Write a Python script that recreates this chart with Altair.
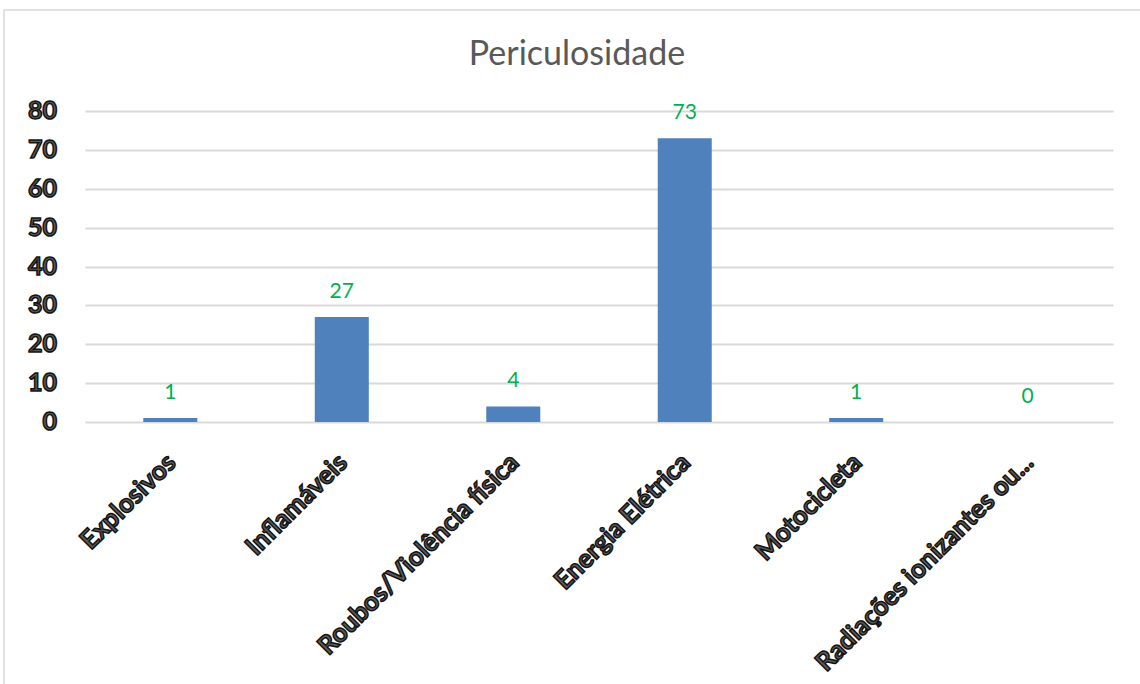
import altair as alt
import pandas as pd

# Hazard categories and their counts
categories = [
    "Explosivos",
    "Inflamáveis",
    "Roubos/Violência física",
    "Energia Elétrica",
    "Motocicleta",
    "Radiações ionizantes ou...",
]
counts = [1, 27, 4, 73, 1, 0]
y_ticks = [0, 10, 20, 30, 40, 50, 60, 70, 80]
chart_title = "Periculosidade"

W, H = 1028, 311
PAD = {"left": 85, "top": 111, "right": 27, "bottom": 262}

bars_df = pd.DataFrame({"categoria": categories, "total": counts})
ticks_df = pd.DataFrame({"tick": y_ticks, "rotulo": [str(t) for t in y_ticks]})
title_df = pd.DataFrame({"t": [chart_title]})

x_enc = alt.X(
    "categoria:N",
    sort=categories,
    scale=alt.Scale(paddingInner=0.685, paddingOuter=0.34),
    axis=None,
)
y_scale = alt.Scale(domain=[0, 80], nice=False)
# Gridlines only; the tick labels are drawn as outlined text below
y_axis = alt.Axis(
    values=y_ticks, labels=False, ticks=False, domain=False, title=None,
    grid=True, gridColor="#d9d9d9", gridWidth=2,
)

base = alt.Chart(bars_df)

# Outer chart frame
frame = base.mark_rect(fill=None, stroke="#d9d9d9", strokeWidth=1.5).encode(
    x=alt.value(-81), x2=alt.value(1060), y=alt.value(-101), y2=alt.value(580)
).transform_filter(alt.datum.categoria == categories[0])

bars = base.mark_bar(color="#4f81bd").encode(
    x=x_enc,
    y=alt.Y("total:Q", scale=y_scale, axis=y_axis),
)

values = base.mark_text(
    color="#00b050", font="Lato", fontSize=21, dy=-25, baseline="middle"
).encode(x=x_enc, y=alt.Y("total:Q", scale=y_scale, axis=y_axis), text="total:Q")

x_labels = base.mark_text(
    font="Lato", fontSize=26, fontWeight="bold", angle=315, align="right",
    baseline="middle", fill="#5a5a5a", stroke="#141414", strokeWidth=1.5, dx=2,
).encode(x=x_enc, y=alt.value(H + 38), text="categoria:N")

y_labels = alt.Chart(ticks_df).mark_text(
    font="Lato", fontSize=25, fontWeight="bold", align="right",
    baseline="middle", fill="#5a5a5a", stroke="#141414", strokeWidth=1.5,
).encode(x=alt.value(-28), y=alt.Y("tick:Q", scale=y_scale, axis=y_axis), text="rotulo:N")

title = alt.Chart(title_df).mark_text(
    font="Lato", fontSize=34, color="#595959", baseline="middle", align="center"
).encode(x=alt.value(492), y=alt.value(-56), text="t:N")

chart = (
    alt.layer(frame, bars, values, x_labels, y_labels, title)
    .properties(
        width=W, height=H, autosize=alt.AutoSizeParams(type="none"),
        padding=PAD, background="white",
    )
    .configure_view(strokeWidth=0, stroke="transparent")
)

chart.save("out.html", embed_options={"renderer": "svg", "actions": False})
